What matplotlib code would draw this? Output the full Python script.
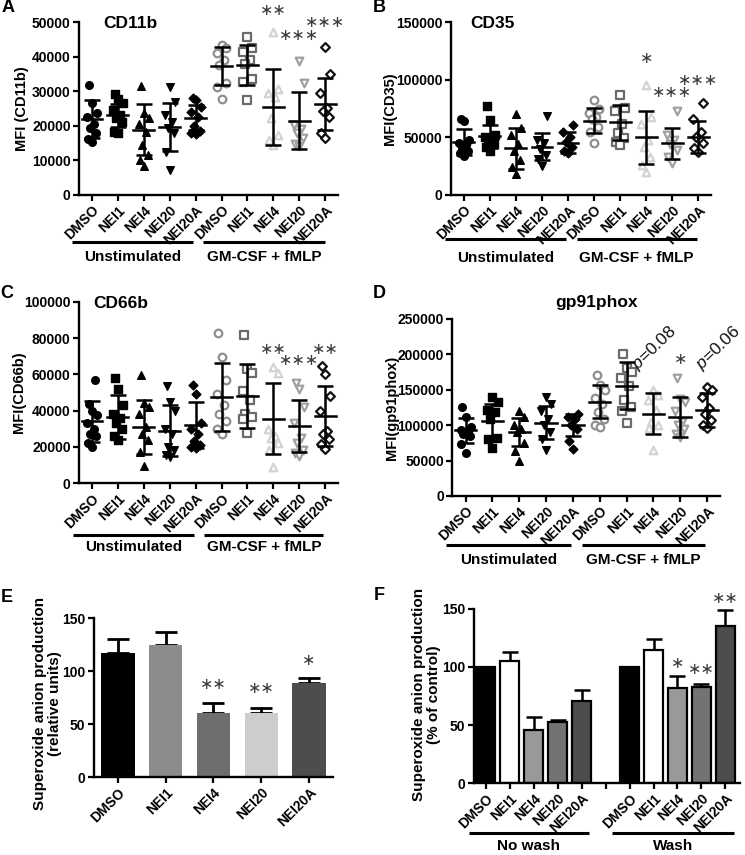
import matplotlib
matplotlib.use('Agg')
import matplotlib.pyplot as plt
from matplotlib.transforms import blended_transform_factory

plt.rcParams['font.family'] = ['Liberation Sans', 'DejaVu Sans']
plt.rcParams['font.weight'] = 'bold'
plt.rcParams['axes.linewidth'] = 1.5
plt.rcParams['mathtext.fontset'] = 'custom'
plt.rcParams['mathtext.it'] = 'Liberation Sans:italic:normal'
plt.rcParams['mathtext.rm'] = 'Liberation Sans:normal'

groups = ['DMSO', 'NEI1', 'NEI4', 'NEI20', 'NEI20A']
scatter_labels = groups + groups

# ---- A: CD11b (10 groups: 5 unstimulated, 5 GM-CSF + fMLP)
cd11b_pts = [
    [31850, 26700, 23600, 22500, 20500, 19300, 17900, 16100, 15400],
    [29200, 27700, 26500, 24600, 23200, 22200, 21200, 18300, 18000],
    [31600, 23600, 22300, 20500, 18300, 14500, 11600, 10100, 8500],
    [31200, 26800, 23000, 21000, 19500, 18000, 12500, 7200],
    [28000, 27400, 25600, 24000, 22500, 20000, 18500, 17900, 17500],
    [43350, 42400, 40950, 39000, 37600, 32300, 31300, 27650],
    [45600, 42400, 41500, 39000, 38000, 33700, 32700, 27450],
    [47200, 30800, 29500, 28400, 22200, 17350, 16000, 14450],
    [38800, 32550, 20200, 19000, 17800, 16500, 14800, 14150],
    [42700, 35000, 29600, 25300, 24300, 22600, 17800, 16400],
]
cd11b_mean = [21900, 23100, 18900, 19700, 22300, 37400, 37600, 25500, 21500, 26300]
cd11b_sd = [5500, 3300, 7300, 7000, 3600, 5500, 5700, 11000, 8300, 7500]

# ---- B: CD35
cd35_pts = [
    [66000, 64600, 48000, 45000, 43000, 40000, 38000, 36000, 34000],
    [77300, 65200, 52000, 50000, 48000, 46000, 44000, 42000, 38000],
    [70400, 57900, 52000, 44000, 38000, 30000, 24600, 18000],
    [68600, 48000, 45000, 40000, 35000, 31000, 25500],
    [60800, 55000, 50000, 46000, 42000, 38000, 36200],
    [82400, 75000, 70800, 68000, 66000, 59200, 55000, 45300],
    [86700, 75100, 73000, 62000, 53500, 49200, 46000, 43400],
    [95400, 67900, 62000, 47700, 41900, 33200, 26000, 20200],
    [73100, 52000, 48000, 44000, 39000, 33200, 27500],
    [79500, 65600, 55000, 50000, 45000, 41000, 37600],
]
cd35_mean = [46000, 51000, 40500, 42000, 45500, 64400, 63000, 50000, 44800, 50000]
cd35_sd = [11500, 10000, 18000, 11500, 9000, 10800, 15000, 23000, 13500, 14000]

# ---- C: CD66b
cd66b_pts = [
    [57100, 43800, 40000, 37800, 33000, 30000, 27000, 25800, 22000, 19900],
    [58000, 52000, 43000, 38000, 36000, 33000, 30000, 26000, 23500],
    [59500, 44000, 42000, 38000, 31000, 27000, 24000, 17000, 9200],
    [53600, 45000, 40000, 30000, 27000, 20000, 18000, 15700, 14500],
    [54000, 49000, 33000, 30000, 27000, 23000, 21000, 20000, 19500],
    [83000, 69500, 57000, 49000, 43000, 38000, 34000, 30000, 27000],
    [81500, 63000, 60500, 51000, 46000, 38000, 36500, 35500, 27500],
    [64000, 60500, 30000, 26000, 25000, 22000, 18000, 9000],
    [55000, 52000, 42000, 33000, 25000, 22000, 18000, 16500, 15000],
    [64500, 60000, 48000, 40000, 29000, 27000, 24500, 21500, 19000],
]
cd66b_mean = [34000, 36500, 31000, 29000, 32000, 47500, 48000, 35500, 31500, 37000]
cd66b_sd = [11500, 12000, 15000, 14000, 12500, 19000, 17500, 19500, 14500, 16500]

# ---- D: gp91phox
gp91_pts = [
    [126000, 111000, 98000, 93000, 90000, 88000, 84000, 74000, 61000],
    [140000, 133000, 122000, 118000, 108000, 82000, 80000, 67000],
    [120000, 112000, 100000, 95000, 90000, 75000, 63000, 50000],
    [140000, 130000, 120000, 108000, 100000, 90000, 80000, 65000],
    [115000, 112000, 108000, 100000, 95000, 78000, 66000],
    [170800, 156000, 150000, 138000, 130000, 118000, 108000, 100000, 97900],
    [200500, 180700, 175000, 166600, 155000, 135000, 126100, 120000, 103500],
    [149700, 142600, 135000, 121400, 104500, 100000, 96000, 65000],
    [167000, 137000, 133000, 120000, 105000, 100000, 95000, 88000, 83300],
    [154300, 149700, 140000, 124300, 115000, 107300, 100000, 96000],
]
gp91_mean = [92500, 105500, 90500, 103500, 100000, 133100, 155700, 115800, 111500, 121400]
gp91_sd = [18000, 25000, 20000, 23500, 16000, 23000, 33000, 29000, 28000, 24000]
gp91_pvals = ['0.08', '0.06']

# ---- E: superoxide, relative units
e_vals = [117.5, 124.8, 61.0, 60.4, 89.3]
e_err = [12.5, 12.6, 9.4, 5.3, 4.7]
e_colors = ['#000000', '#8c8c8c', '#6e6e6e', '#cdcdcd', '#4d4d4d']

# ---- F: superoxide, % of control
f_nowash = [100, 104.9, 45.4, 52.6, 71.0]
f_nowash_err = [0, 7.7, 11.2, 2.0, 8.9]
f_wash = [100, 114.9, 81.9, 82.8, 135.0]
f_wash_err = [0, 8.7, 10.6, 2.5, 13.6]
f_colors = ['#000000', '#ffffff', '#999999', '#737373', '#4d4d4d']

markers = ['o', 's', '^', 'v', 'D']
stim_edges = ['#8f8f8f', '#6b6b6b', '#d3d3d3', '#a0a0a0', '#111111']
offset_pattern = [0.0, -0.16, 0.16, -0.08, 0.08, -0.19, 0.19, 0.0, -0.12, 0.12]

STAR_FONT = ['DejaVu Sans']
TICK_SIZE = 10


def stars(ax, x, y, n, size=11.5):
    ax.text(x, y, '\u2217' * n, ha='center', va='center', fontsize=size,
            color='#3a3a3a', fontweight='normal', family=STAR_FONT, clip_on=False)


def style_axes(ax, labels, ticks=None):
    for s in ['top', 'right']:
        ax.spines[s].set_visible(False)
    ax.spines['left'].set_linewidth(1.7)
    ax.spines['bottom'].set_linewidth(1.7)
    ax.tick_params(direction='out', length=4, width=1.6, labelsize=TICK_SIZE, pad=2)
    ax.set_xticks(ticks if ticks is not None else range(len(labels)))
    ax.set_xticklabels(labels, rotation=45, ha='right', rotation_mode='anchor',
                       fontweight='bold', fontsize=TICK_SIZE)
    for t in ax.get_yticklabels():
        t.set_fontweight('bold')


def group_bars(ax, spans, names, yline, ytext, size=11):
    tr = blended_transform_factory(ax.transData, ax.transAxes)
    for (x0, x1), name in zip(spans, names):
        ax.plot([x0, x1], [yline, yline], color='black', lw=2.2, transform=tr,
                clip_on=False, solid_capstyle='butt')
        ax.text((x0 + x1) / 2, ytext, name, transform=tr, ha='center', va='center',
                fontsize=size, fontweight='bold')


def scatter_panel(ax, pts, means, sds, ymax, step, title, tx, ty, ylabel, lx):
    for i, vals in enumerate(pts):
        order = sorted(range(len(vals)), key=lambda k: vals[k])
        xs = [0] * len(vals)
        for rank, k in enumerate(order):
            xs[k] = i + offset_pattern[rank % len(offset_pattern)]
        m = markers[i % 5]
        ms = 30 if m != 'D' else 20
        if i < 5:
            ax.scatter(xs, vals, marker=m, s=ms, color='black', zorder=3,
                       clip_on=False)
        else:
            ax.scatter(xs, vals, marker=m, s=ms, facecolor='white',
                       edgecolor=stim_edges[i - 5], linewidth=1.6, zorder=3,
                       clip_on=False)
        ax.plot([i - 0.4, i + 0.4], [means[i], means[i]], color='black', lw=1.8,
                zorder=4)
        ax.errorbar(i, means[i], yerr=sds[i], color='black', lw=1.8, capsize=5.5,
                    capthick=1.8, zorder=4)
    ax.set_xlim(-0.5, 9.5)
    ax.set_ylim(0, ymax)
    ax.set_yticks(range(0, ymax + 1, step))
    style_axes(ax, scatter_labels)
    ax.text(tx, ty, title, transform=ax.transAxes, ha='center', va='center',
            fontsize=12.5, fontweight='bold')
    ax.set_ylabel(ylabel, fontsize=10.5, fontweight='bold')
    ax.yaxis.set_label_coords(lx, 0.5)


fig = plt.figure(figsize=(7.45, 8.55), dpi=100)

axA = fig.add_axes([0.106, 0.772, 0.348, 0.202])
scatter_panel(axA, cd11b_pts, cd11b_mean, cd11b_sd, 50000, 10000, 'CD11b',
              0.2, 0.99, 'MFI (CD11b)', -0.193)
stars(axA, 7, 53500, 2)
stars(axA, 8, 46300, 3)
stars(axA, 9, 49900, 3)
group_bars(axA, [(-0.75, 3.9), (4.3, 9.0)], ['Unstimulated', 'GM-CSF + fMLP'],
           -0.273, -0.36)

axB = fig.add_axes([0.605, 0.772, 0.350, 0.202])
scatter_panel(axB, cd35_pts, cd35_mean, cd35_sd, 150000, 50000, 'CD35',
              0.16, 0.99, 'MFI(CD35)', -0.207)
stars(axB, 7, 118500, 1)
stars(axB, 8, 89000, 3)
stars(axB, 9, 99100, 3)
group_bars(axB, [(-0.73, 3.94), (4.33, 8.93)], ['Unstimulated', 'GM-CSF + fMLP'],
           -0.255, -0.364)

axC = fig.add_axes([0.106, 0.435, 0.348, 0.212])
scatter_panel(axC, cd66b_pts, cd66b_mean, cd66b_sd, 100000, 20000, 'CD66b',
              0.16, 0.99, 'MFI(CD66b)', -0.205)
stars(axC, 7, 73700, 2)
stars(axC, 8, 67600, 3)
stars(axC, 9, 73700, 2)
group_bars(axC, [(-0.73, 3.94), (4.33, 8.93)], ['Unstimulated', 'GM-CSF + fMLP'],
           -0.287, -0.352)

axD = fig.add_axes([0.607, 0.420, 0.360, 0.207])
scatter_panel(axD, gp91_pts, gp91_mean, gp91_sd, 250000, 50000, 'gp91phox',
              0.537, 1.09, 'MFI(gp91phox)', -0.2)
stars(axD, 8, 192000, 1)
for x, txt in zip([6.55, 8.92], gp91_pvals):
    axD.text(x, 172000, r'$p$=' + txt, rotation=44, rotation_mode='anchor',
             ha='left', va='bottom', fontsize=12.5, fontweight='normal',
             family=['Liberation Sans'], color='#111111', clip_on=False)
group_bars(axD, [(-0.73, 3.94), (4.33, 8.93)], ['Unstimulated', 'GM-CSF + fMLP'],
           -0.277, -0.362)

# ---- E
axE = fig.add_axes([0.126, 0.091, 0.321, 0.186])
xe = range(len(e_vals))
axE.bar(xe, e_vals, width=0.7, color=e_colors, zorder=2)
axE.errorbar(xe, e_vals, yerr=[[0] * 5, e_err], fmt='none', ecolor='black',
             elinewidth=2, capsize=8, capthick=2, zorder=1)
axE.set_xlim(-0.5, 4.5)
axE.set_ylim(0, 150)
axE.set_yticks([0, 50, 100, 150])
style_axes(axE, groups)
axE.set_ylabel('Superoxide anion production\n(relative units)', fontsize=11,
               fontweight='bold', linespacing=1.05)
axE.yaxis.set_label_coords(-0.135, 0.465)
stars(axE, 2, 87, 2)
stars(axE, 3, 84, 2)
stars(axE, 4, 110.5, 1)

# ---- F
axF = fig.add_axes([0.636, 0.084, 0.357, 0.204])
xn = list(range(5))
xw = [6, 7, 8, 9, 10]
for xs, vals, err in [(xn, f_nowash, f_nowash_err), (xw, f_wash, f_wash_err)]:
    axF.bar(xs, vals, width=0.78, color=f_colors, edgecolor='black',
            linewidth=1.6, zorder=2)
    axF.errorbar(xs, vals, yerr=[[0] * 5, err], fmt='none', ecolor='black',
                 elinewidth=1.8, capsize=6, capthick=1.8, zorder=1)
axF.set_xlim(-0.5, 10.6)
axF.set_ylim(0, 150)
axF.set_yticks([0, 50, 100, 150])
style_axes(axF, groups + [''] + groups, ticks=xn + [5] + xw)
axF.set_ylabel('Superoxide anion production\n(% of control)', fontsize=11,
               fontweight='bold', linespacing=1.05)
axF.yaxis.set_label_coords(-0.125, 0.506)
stars(axF, 8, 103, 1)
stars(axF, 9, 98, 2)
stars(axF, 10, 158.5, 2)
group_bars(axF, [(-0.7, 4.3), (5.25, 10.35)], ['No wash', 'Wash'], -0.288, -0.36)

# panel letters
for x, y, s in [(8, 8, 'A'), (379, 8, 'B'), (7, 293, 'C'), (379, 293, 'D'),
                (7, 597, 'E'), (379, 596, 'F')]:
    fig.text(x / 745, 1 - y / 855, s, ha='center', va='center', fontsize=13,
             fontweight='bold')

fig.savefig('out.png', dpi=100)
